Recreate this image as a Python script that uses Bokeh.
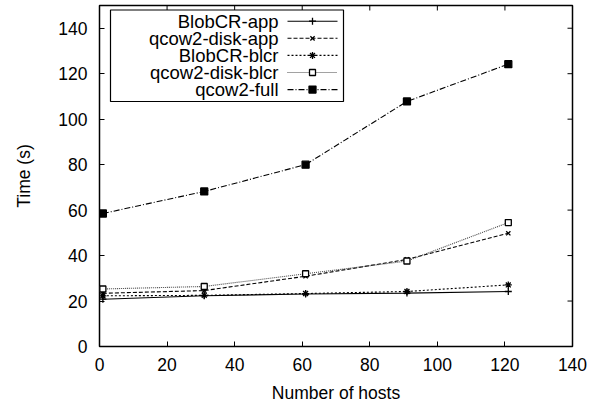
from bokeh.plotting import figure
from bokeh.models import FixedTicker, Range1d
from bokeh.core.properties import value
from bokeh.embed import file_html
from bokeh.resources import INLINE

# ---- data ----
hosts = [1, 31, 61, 91, 121]
blobcr_app = [20.8, 22.3, 23.1, 23.5, 24.2]
qcow2_disk_app = [23.4, 24.6, 30.9, 38.3, 49.8]
blobcr_blcr = [22.3, 22.5, 23.3, 24.2, 27.1]
qcow2_disk_blcr = [25.3, 26.4, 32.0, 37.6, 54.5]
qcow2_full = [58.5, 68.2, 80.0, 107.8, 124.2]
series_names = ["BlobCR-app", "qcow2-disk-app", "BlobCR-blcr", "qcow2-disk-blcr", "qcow2-full"]
x_ticks = [0, 20, 40, 60, 80, 100, 120, 140]
y_ticks = [0, 20, 40, 60, 80, 100, 120, 140]
x_title = "Number of hosts"
y_title = "Time (s)"

FONT = "Liberation Sans"
X_MAX = 140
Y_MAX = 150

# frame geometry (page pixels; Bokeh's page has no body margin)
W, H = 607, 406
FL, FT, FR, FB = 99, 5, 572, 346
FW, FH = FR - FL, FB - FT

p = figure(width=W, height=H, output_backend="svg", toolbar_location=None,
           x_range=Range1d(0, X_MAX), y_range=Range1d(0, Y_MAX),
           min_border_left=FL, min_border_right=W - FR, min_border_top=FT,
           min_border_bottom=H - FB)
p.background_fill_color = "white"
p.border_fill_color = "white"
p.grid.visible = False
p.outline_line_color = "black"
p.outline_line_width = 1.5

for ax, ticks, t in ((p.xaxis[0], x_ticks, x_title), (p.yaxis[0], y_ticks, y_title)):
    ax.ticker = FixedTicker(ticks=ticks)
    ax.major_tick_in = 5
    ax.major_tick_out = 0
    ax.minor_tick_in = 0
    ax.minor_tick_out = 0
    ax.major_tick_line_color = "black"
    ax.major_tick_line_width = 1
    ax.axis_line_color = None
    ax.major_label_text_font = FONT
    ax.major_label_text_font_size = "17.5px"
    ax.major_label_text_color = "black"
    ax.axis_label = t
    ax.axis_label_text_font = FONT
    ax.axis_label_text_font_size = "17.5px"
    ax.axis_label_text_font_style = "normal"
    ax.axis_label_text_color = "black"
p.xaxis[0].major_label_standoff = 11
p.xaxis[0].axis_label_standoff = 9
p.yaxis[0].major_label_standoff = 12
p.yaxis[0].axis_label_standoff = 21

# mirrored inward ticks on the top and right borders
px_x = X_MAX / FW
px_y = Y_MAX / FH
inner_x = [t for t in x_ticks if 0 < t < X_MAX]
inner_y = [t for t in y_ticks if 0 < t < Y_MAX]
p.segment(x0=inner_x, y0=[Y_MAX] * len(inner_x), x1=inner_x,
          y1=[Y_MAX - 5 * px_y] * len(inner_x), line_color="black", line_width=1)
p.segment(x0=[X_MAX] * len(inner_y), y0=inner_y, x1=[X_MAX - 5 * px_x] * len(inner_y),
          y1=inner_y, line_color="black", line_width=1)

styles = [
    dict(values=blobcr_app, dash="solid", color="black", marker="cross", size=7, fill="black"),
    dict(values=qcow2_disk_app, dash="4 2", color="black", marker="x", size=6, fill="black"),
    dict(values=blobcr_blcr, dash="2 2", color="black", marker="asterisk", size=7, fill="black"),
    dict(values=qcow2_disk_blcr, dash="1 1", color="#444444", marker="square", size=6, fill="white"),
    dict(values=qcow2_full, dash="6 2 1 2", color="black", marker="square", size=7, fill="black"),
]

for s in styles:
    p.line(hosts, s["values"], line_color=s["color"], line_width=1.1, line_dash=s["dash"])
    p.scatter(hosts, s["values"], marker=s["marker"], size=s["size"],
              line_color="black", fill_color=s["fill"], line_width=1.3)


# ---- legend (gnuplot style: text right-aligned, sample on the right) ----
def dx(px):
    return (px - FL) / FW * X_MAX


def dy(py):
    return (FB - py) / FH * Y_MAX


p.quad(left=[dx(110)], right=[dx(343)], top=[dy(9.5)], bottom=[dy(101)],
       fill_color="white", line_color="black", line_width=1.2)

row0, row_step = 20.7, 17.1
for i, (name, s) in enumerate(zip(series_names, styles)):
    ry = dy(row0 + i * row_step)
    p.text(x=[dx(278)], y=[ry], text=[name], text_align="right", text_baseline="middle",
           text_font=value(FONT), text_font_size="18.5px", text_color="black")
    p.line([dx(287), dx(337)], [ry, ry], line_color=s["color"], line_width=1.1, line_dash=s["dash"])
    p.scatter([dx(312)], [ry], marker=s["marker"], size=s["size"],
              line_color="black", fill_color=s["fill"], line_width=1.3)

open("out.html", "w").write(file_html(p, INLINE))
